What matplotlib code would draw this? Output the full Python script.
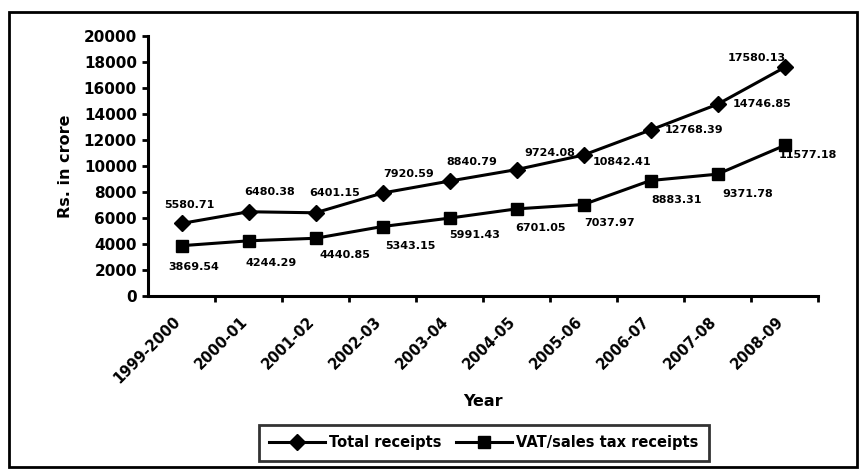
import matplotlib.pyplot as plt
from matplotlib.patches import Rectangle

plt.rcParams['font.family'] = ['DejaVu Sans']
plt.rcParams['font.weight'] = 'bold'

# years and receipts (Rs. in crore)
years = ['1999-2000', '2000-01', '2001-02', '2002-03', '2003-04',
         '2004-05', '2005-06', '2006-07', '2007-08', '2008-09']
total = [5580.71, 6480.38, 6401.15, 7920.59, 8840.79,
         9724.08, 10842.41, 12768.39, 14746.85, 17580.13]
vat = [3869.54, 4244.29, 4440.85, 5343.15, 5991.43,
       6701.05, 7037.97, 8883.31, 9371.78, 11577.18]

fig = plt.figure(figsize=(8.6, 4.72), dpi=100)
ax = fig.add_axes([148 / 860, 1 - 296 / 472, 670 / 860, 260 / 472])

# outer frame round the whole chart
fig.patches.append(Rectangle((9 / 860, 5 / 472), 848 / 860, 455 / 472,
                             transform=fig.transFigure, fill=False,
                             lw=2, ec='black'))

x = list(range(len(years)))
ax.plot(x, total, color='black', lw=2.2, marker='D', ms=8,
        label='Total receipts')
ax.plot(x, vat, color='black', lw=2.2, marker='s', ms=9,
        label='VAT/sales tax receipts')

# label offsets in points
tot_off = [(6, 13), (15, 14), (14, 14), (19, 14), (16, 14),
           (24, 12), (28, -5), (31, 0), (32, 0), (-20, 7)]
vat_off = [(9, -15), (16, -16), (21, -12), (20, -14), (18, -12),
           (17, -14), (19, -13), (19, -14), (22, -14), (17, -7)]
for i in x:
    ax.annotate(f'{total[i]:.2f}', (i, total[i]), xytext=tot_off[i],
                textcoords='offset points', ha='center', va='center',
                fontsize=8, fontweight='bold')
    ax.annotate(f'{vat[i]:.2f}', (i, vat[i]), xytext=vat_off[i],
                textcoords='offset points', ha='center', va='center',
                fontsize=8, fontweight='bold')

ax.set_xlim(-0.5, len(years) - 0.5)
ax.set_ylim(0, 20000)
ax.set_yticks(range(0, 20001, 2000))
ax.set_xticks([i - 0.5 for i in range(1, len(years) + 1)], minor=False)
ax.set_xticklabels([])
# rotated labels sit a little left of each category centre
ax.set_xticks([i - 0.13 for i in x], minor=True)
ax.set_xticklabels(years, minor=True, rotation=45, ha='right',
                   rotation_mode='anchor', fontsize=10.5, fontweight='bold')
ax.tick_params(axis='x', which='minor', length=0, pad=13)
ax.tick_params(axis='x', which='major', length=4, width=2,
               direction='out')
ax.tick_params(axis='y', length=4, width=2, labelsize=11, pad=4)

for s in ['top', 'right']:
    ax.spines[s].set_visible(False)
ax.spines['left'].set_linewidth(2.2)
ax.spines['bottom'].set_linewidth(2.2)

ax.set_ylabel('Rs. in crore', fontsize=11.5, fontweight='bold', labelpad=8)
ax.set_xlabel('Year', fontsize=11.5, fontweight='bold')
ax.xaxis.set_label_coords(0.5, -0.377)

leg = fig.legend(loc='center', bbox_to_anchor=(484 / 860, 1 - 443 / 472),
                 ncol=2, frameon=True, fancybox=False, edgecolor='black',
                 fontsize=10.5, handlelength=3.8, columnspacing=1.0,
                 borderpad=0.75, handletextpad=0.3)
leg.get_frame().set_linewidth(2)

fig.savefig('out.png', dpi=100)
